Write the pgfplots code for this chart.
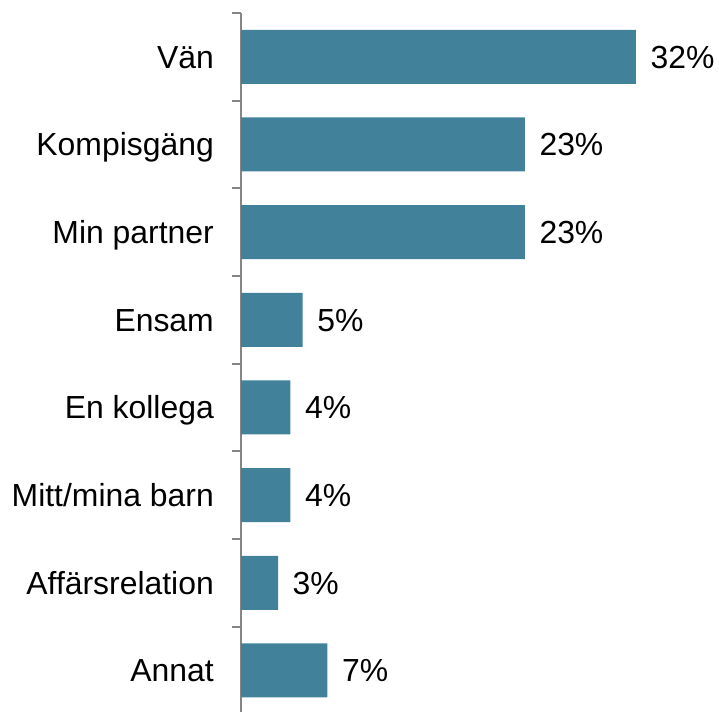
\documentclass[border=0pt]{standalone}
\usepackage{pgfplots}
\pgfplotsset{compat=1.18}
\usepackage{fontspec}
\setmainfont{Liberation Sans}
\definecolor{barteal}{RGB}{65,130,154}
\definecolor{axisgray}{RGB}{134,134,134}

\pgfplotstableread{
pos val
0 7
1 3
2 4
3 4
4 5
5 23
6 23
7 32
}\shares

\begin{document}
\begin{tikzpicture}
\path[use as bounding box] (0,0) rectangle (719pt,711pt);
\begin{axis}[
  at={(241pt,-3.3pt)}, anchor=south west,
  scale only axis,
  width=493.6pt, height=701.3pt,
  xmin=0, xmax=40,
  ymin=-0.5, ymax=7.5,
  axis x line=none,
  axis y line*=left,
  y axis line style={draw=axisgray, line width=2pt, -},
  ytick={0,...,7},
  yticklabels={Annat,Affärsrelation,Mitt/mina barn,En kollega,Ensam,Min partner,Kompisgäng,Vän},
  major tick length=0pt,
  minor ytick={-0.5,0.5,...,7.5},
  minor tick length=9pt,
  tick align=outside,
  minor tick style={draw=axisgray, line width=2pt},
  yticklabel style={anchor=base east, inner sep=0pt, xshift=-27pt, yshift=-11.4pt,
    font=\fontsize{31.9}{38}\selectfont},
  /pgf/number format/assume math mode=true,
  xbar, bar width=54pt, bar shift=0pt,
  nodes near coords={\pgfmathprintnumber{\pgfplotspointmeta}\%},
  nodes near coords style={anchor=base west, inner sep=0pt, xshift=14.5pt, yshift=-11.4pt,
    font=\fontsize{31.9}{38}\selectfont, text=black},
  point meta=x,
  clip=false,
]
\addplot[draw=none, fill=barteal] table[x=val, y=pos] {\shares};
\end{axis}
\end{tikzpicture}
\end{document}
